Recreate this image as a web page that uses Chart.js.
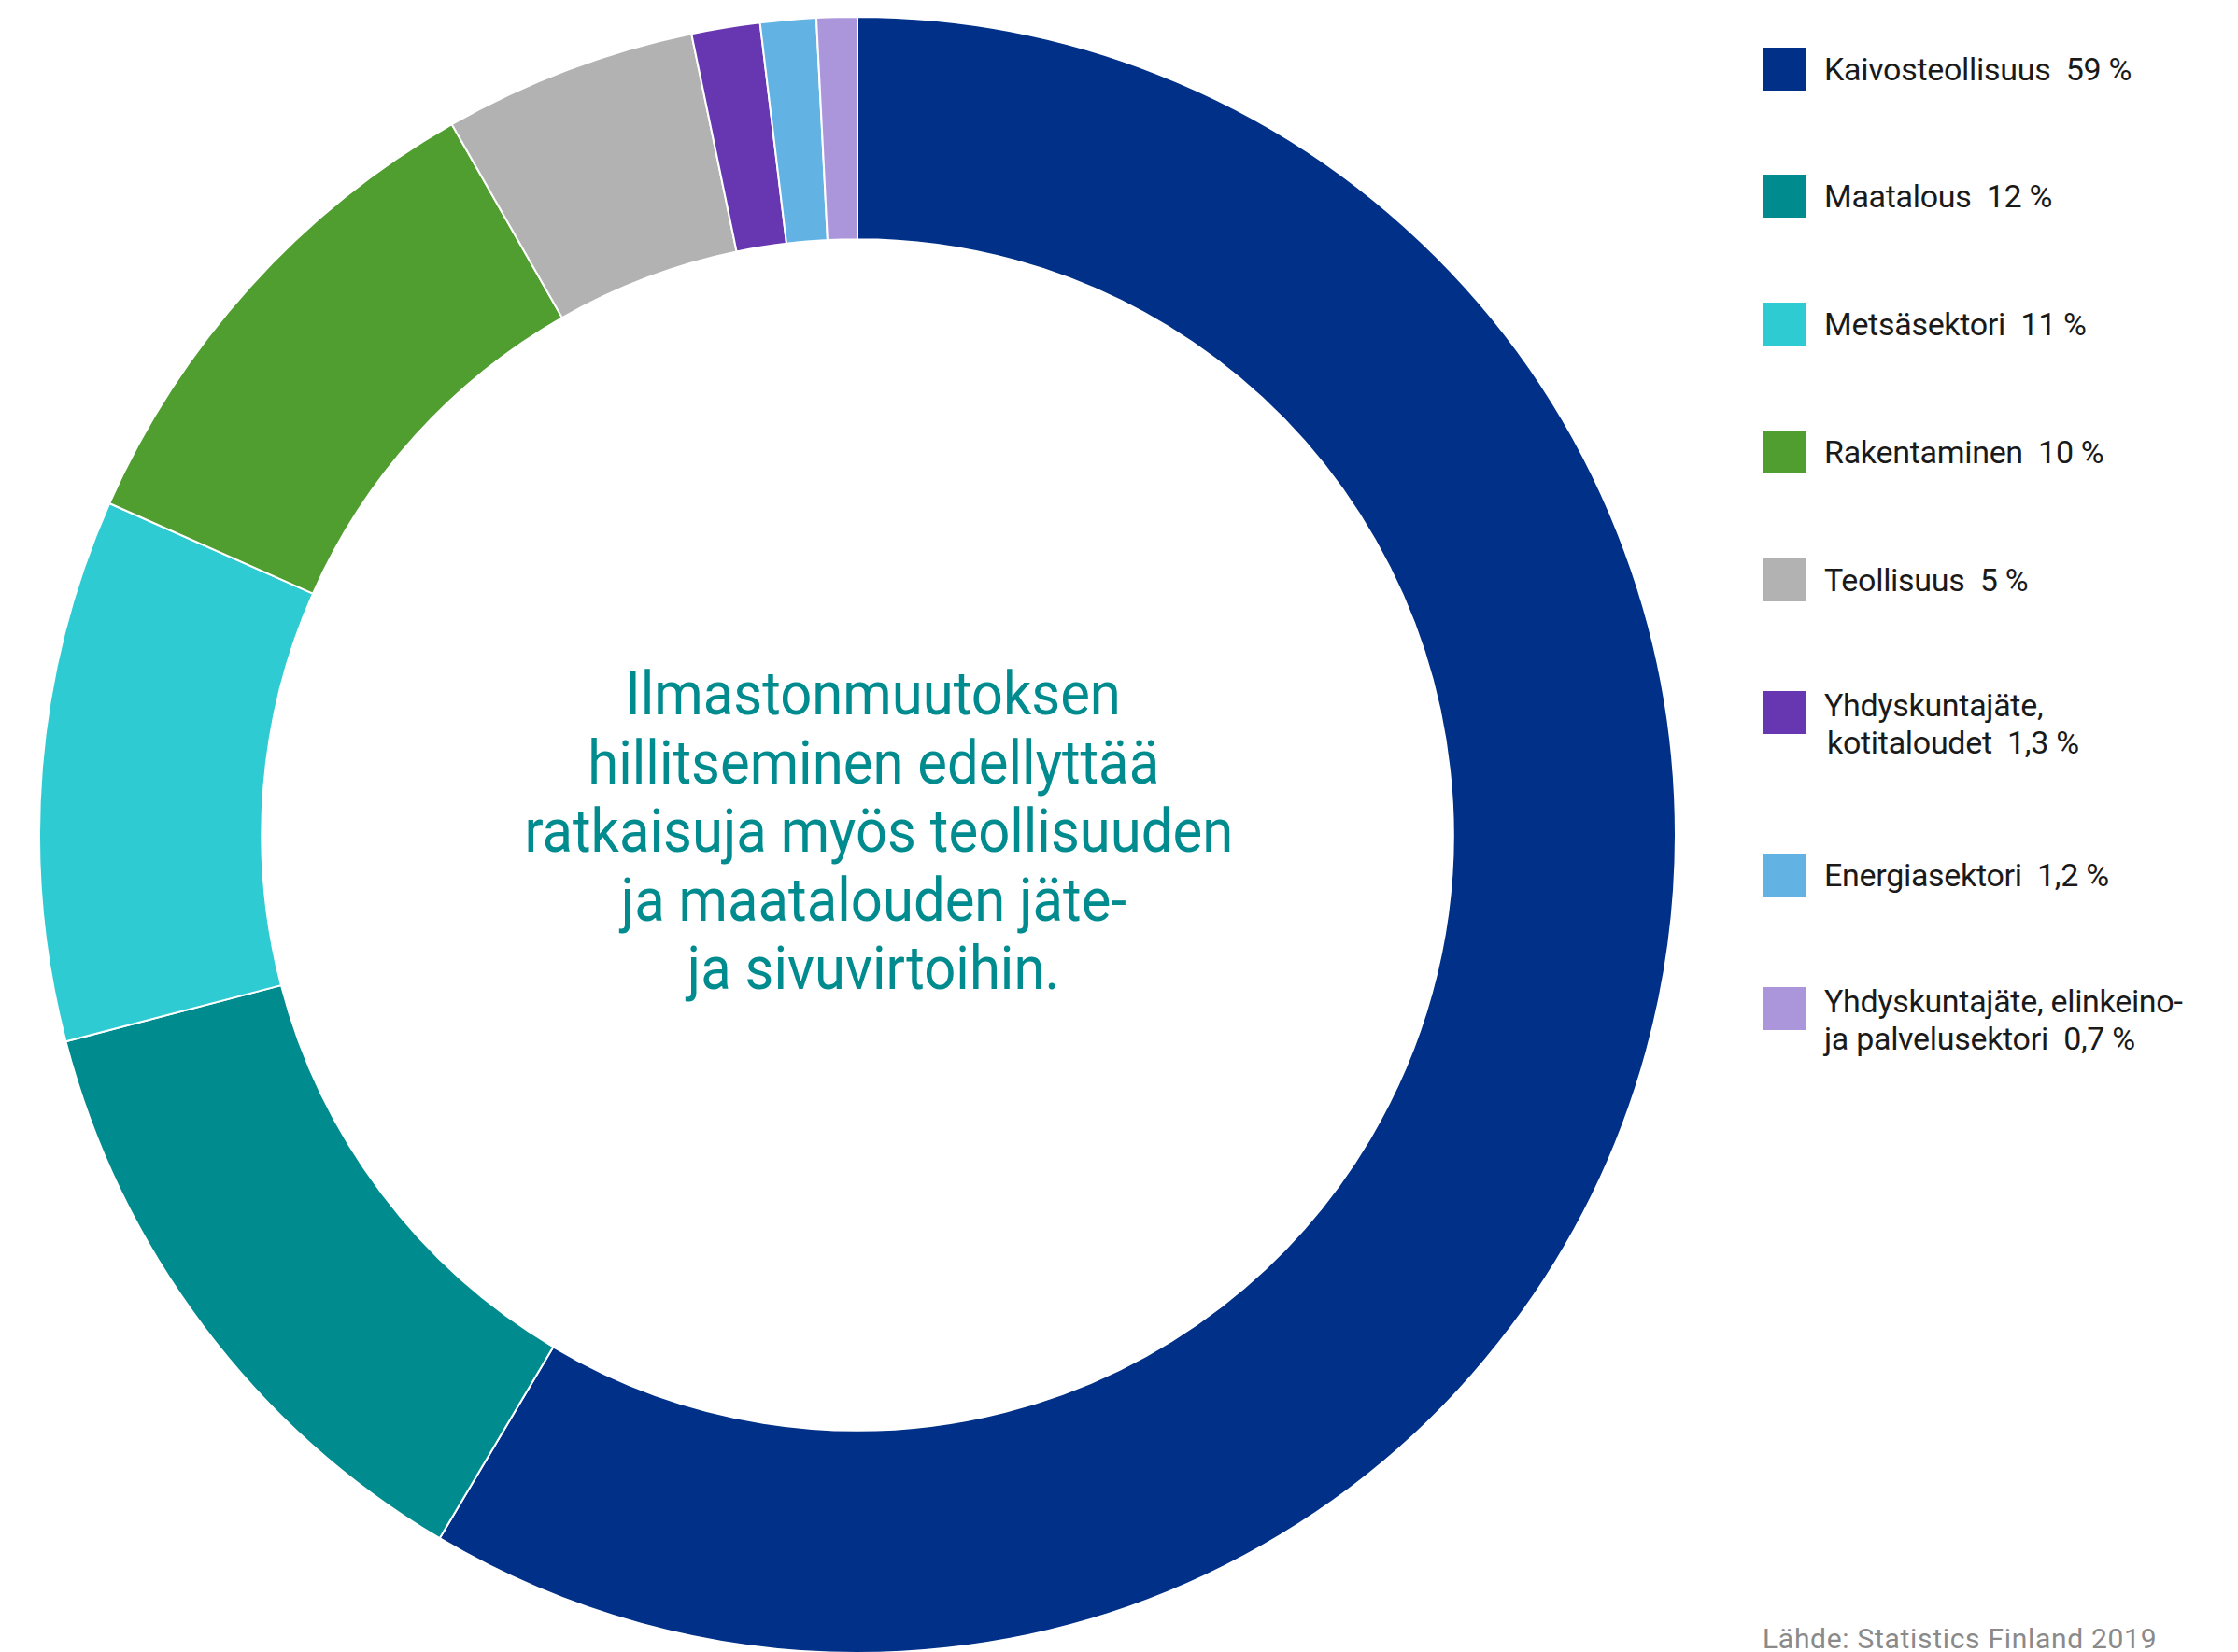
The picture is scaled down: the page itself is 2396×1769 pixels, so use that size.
<!DOCTYPE html>
<html lang="fi">
<head>
<meta charset="utf-8">
<title>Päästöt sektoreittain</title>
<script src="https://cdn.jsdelivr.net/npm/chart.js@4.4.1/dist/chart.umd.min.js"></script>
<style>
  html, body { margin: 0; padding: 0; background: #fff; overflow: hidden; }
  body { width: 2396px; height: 1769px; position: relative; font-family: Roboto, 'Noto Sans', sans-serif; }
  #chartBox { position: absolute; left: 41px; top: 17px; width: 1754px; height: 1754px; }
  #centerText {
    position: absolute; left: 535px; width: 800px; top: 707px;
    text-align: center; color: #008b8f; font-size: 64px; line-height: 73.5px;
    font-family: Roboto, sans-serif; font-weight: 400;
  }
  #centerText span { display: inline-block; white-space: nowrap; transform-origin: 50% 50%; }
  #legend { position: absolute; left: 1888px; top: 0; }
  .item { position: absolute; left: 0; width: 500px; }
  .sw { position: absolute; left: 0; width: 46px; height: 46px; }
  .lbl { position: absolute; left: 65px; font-size: 34px; line-height: 40px; color: #1a1a1a; white-space: nowrap; letter-spacing: -0.3px; }
  #source { position: absolute; left: 1887px; top: 1737px; font-size: 30px; letter-spacing: 0.7px; color: #8a8a8a; white-space: nowrap; }
</style>
</head>
<body>
<div id="chartBox"><canvas id="donut"></canvas></div>
<div id="centerText"></div>
<div id="legend"></div>
<div id="source">Lähde: Statistics Finland 2019</div>
<script>
const sectors = ['Kaivosteollisuus', 'Maatalous', 'Metsäsektori', 'Rakentaminen', 'Teollisuus',
  'Yhdyskuntajäte, kotitaloudet', 'Energiasektori', 'Yhdyskuntajäte, elinkeino- ja palvelusektori'];
const shares = [58.5, 12.4, 10.7, 10.1, 5.0, 1.35, 1.1, 0.8];
const shareText = ['59 %', '12 %', '11 %', '10 %', '5 %', '1,3 %', '1,2 %', '0,7 %'];
// legend lines (two-line labels split where the original breaks them)
const legendLines = [
  ['Kaivosteollisuus'], ['Maatalous'], ['Metsäsektori'], ['Rakentaminen'], ['Teollisuus'],
  ['Yhdyskuntajäte,', 'kotitaloudet'], ['Energiasektori'], ['Yhdyskuntajäte, elinkeino-', 'ja palvelusektori']
];
const colors = ['#003087', '#008c8f', '#2ecbd2', '#509d30', '#b2b2b2', '#6637b0', '#62b3e4', '#ac96db'];
const centerLines = ['Ilmastonmuutoksen', 'hillitseminen edellyttää', 'ratkaisuja myös teollisuuden',
  'ja maatalouden jäte-', 'ja sivuvirtoihin.'];

const ctx = document.getElementById('donut').getContext('2d');
new Chart(ctx, {
  type: 'doughnut',
  data: {
    labels: sectors,
    datasets: [{
      data: shares,
      backgroundColor: colors,
      borderColor: '#ffffff',
      borderWidth: 2,
      hoverOffset: 0
    }]
  },
  options: {
    responsive: true,
    maintainAspectRatio: false,
    animation: false,
    cutout: '72.8%',
    layout: { padding: 0 },
    events: [],
    plugins: {
      legend: { display: false },
      tooltip: { enabled: false }
    }
  }
});

// legend, vertical centres of the swatches
const legendY = [74, 210, 347, 484, 621, 763, 937, 1080];
const legend = document.getElementById('legend');
legendLines.forEach(function (lines, i) {
  const item = document.createElement('div');
  item.className = 'item';
  item.style.top = (legendY[i] - 23) + 'px';
  const sw = document.createElement('div');
  sw.className = 'sw';
  sw.style.background = colors[i];
  item.appendChild(sw);
  lines.forEach(function (t, k) {
    const l = document.createElement('div');
    l.className = 'lbl';
    const last = k === lines.length - 1;
    l.innerHTML = t + (last ? '&nbsp;&nbsp;' + shareText[i] : '');
    const off = lines.length > 1 ? -5 + k * 40 : 3;
    l.style.top = off + 'px';
    if (k === 1 && i === 5) l.style.left = '68px';
    item.appendChild(l);
  });
  legend.appendChild(item);
});

// centre text, squeezed to the condensed width of the original
const ct = document.getElementById('centerText');
centerLines.forEach(function (t, i) {
  const s = document.createElement('span');
  s.textContent = t;
  ct.appendChild(s);
  if (i < centerLines.length - 1) ct.appendChild(document.createElement('br'));
});
const spans = ct.querySelectorAll('span');
const w3 = spans[2].getBoundingClientRect().width;
const sx = 759 / w3;
spans.forEach(function (s) { s.style.transform = 'scaleX(' + sx.toFixed(3) + ')'; });
</script>
</body>
</html>
